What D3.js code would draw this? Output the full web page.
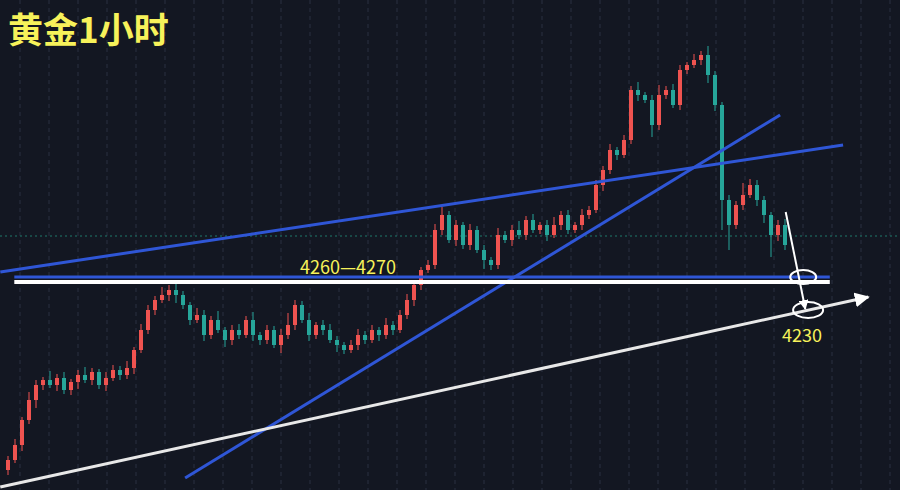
<!DOCTYPE html>
<html><head><meta charset="utf-8">
<script src="https://cdn.jsdelivr.net/npm/d3@7"></script>
<style>body{margin:0;background:#131722;}svg{display:block;}</style>
</head><body><div id="outer"></div>
<script>
// DATA //
const closes = [4085,4100,4125,4145,4160,4165,4160,4167,4155,4163,4170,4165,4173,4160,4167,4175,4170,4177,4195,4215,
  4235,4245,4250,4255,4250,4240,4225,4230,4210,4225,4215,4205,4215,4210,4225,4210,4205,4215,4200,4210,
  4220,4240,4225,4210,4220,4215,4205,4200,4195,4200,4210,4205,4215,4210,4220,4215,4230,4245,4260,4275,
  4280,4315,4330,4305,4320,4300,4315,4295,4285,4280,4310,4305,4315,4310,4325,4315,4320,4310,4320,4330,
  4315,4320,4330,4335,4360,4375,4395,4390,4405,4455,4450,4445,4420,4450,4455,4440,4475,4480,4485,4490,
  4470,4440,4345,4320,4340,4350,4360,4345,4330,4310,4320,4300];
const firstOpen = 4075;
const upperWick = [4,6,3,8,5,3,9,4,6,3,5,8,4,3,6,5,4,7,3,6,
  5,4,8,5,6,4,3,7,5,4,9,3,5,6,4,8,3,5,4,6,12,5,4,7,3,5,6,4,3,5,
  6,4,5,3,7,4,5,6,4,3,5,6,8,4,5,3,6,4,5,3,7,4,5,9,4,6,3,5,8,4,
  5,3,6,4,5,4,6,3,5,4,8,3,5,10,4,6,5,3,6,4,9,4,3,5,4,12,6,5,4,3,5,6];
const lowerWick = [5,3,6,4,8,5,3,6,4,5,7,3,5,4,6,3,5,4,6,3,
  4,5,3,6,8,4,5,3,6,4,3,7,5,4,3,6,5,4,3,8,4,5,3,6,4,5,3,7,4,3,
  5,4,3,6,4,5,3,4,6,5,3,4,5,3,6,4,5,3,9,5,4,3,6,4,5,3,4,6,3,5,
  4,3,5,4,3,6,4,5,3,4,6,3,12,5,4,3,5,4,3,5,8,6,30,25,4,5,3,6,8,22,6,5];
const titleText = '黄金1小时';
const rangeLabel = '4260—4270';
const targetLabel = '4230';
// trend lines: [index, price] endpoints
const blueLines = [
  [[-1.1, 4273], [119.3, 4400]],
  [[25.3, 4067], [110.3, 4430]]
];
const supportBlue = [[0.9, 4268], [117.4, 4268]];
const supportWhite = [[0.9, 4263], [117.4, 4263]];
const lowerWhite = [[-1.1, 4058], [122.9, 4248]];
const arrowDown = [[111.1, 4333], [113.9, 4236]];
const ellipses = [[113.6, 4268, 13, 7], [114.3, 4235, 15, 8]];
const lastPrice = 4309;

// SIZING //
const W = 900, H = 490;
const x = d3.scaleLinear().domain([0, closes.length - 1]).range([8, 785]);
const y = d3.scaleLinear().domain([4055, 4545]).range([H, 0]);

const svg = d3.select('#outer').append('svg').attr('width', W).attr('height', H);
svg.append('rect').attr('width', W).attr('height', H).attr('fill', '#131722');

const defs = svg.append('defs');
defs.append('marker').attr('id', 'arw').attr('viewBox', '0 0 10 10').attr('refX', 9).attr('refY', 5)
  .attr('markerWidth', 5).attr('markerHeight', 5).attr('orient', 'auto')
  .append('path').attr('d', 'M0,0L10,5L0,10z').attr('fill', 'white');

// GRID //
d3.range(20, W, 29).forEach(gx => {
  svg.append('line').attr('x1', gx).attr('x2', gx).attr('y1', 0).attr('y2', H)
    .attr('stroke', '#2a3040').attr('stroke-dasharray', '4,4');
});
svg.append('line').attr('x1', 0).attr('x2', W).attr('y1', y(lastPrice)).attr('y2', y(lastPrice))
  .attr('stroke', '#1f7a6a').attr('stroke-dasharray', '2,3');

// CANDLES //
const candles = closes.map((c, i) => {
  const o = i === 0 ? firstOpen : closes[i - 1];
  return {i, o, c, h: Math.max(o, c) + upperWick[i], l: Math.min(o, c) - lowerWick[i]};
});
const cg = svg.append('g');
candles.forEach(d => {
  const col = d.c >= d.o ? '#ef5350' : '#26a69a';
  cg.append('line').attr('x1', x(d.i)).attr('x2', x(d.i)).attr('y1', y(d.h)).attr('y2', y(d.l))
    .attr('stroke', col).attr('stroke-width', 1);
  cg.append('rect').attr('x', x(d.i) - 2).attr('width', 4)
    .attr('y', y(Math.max(d.o, d.c))).attr('height', Math.max(1, Math.abs(y(d.o) - y(d.c))))
    .attr('fill', col);
});

// DRAWINGS //
const seg = (pts, col, w, marker) => {
  const l = svg.append('line').attr('x1', x(pts[0][0])).attr('y1', y(pts[0][1]))
    .attr('x2', x(pts[1][0])).attr('y2', y(pts[1][1])).attr('stroke', col).attr('stroke-width', w);
  if (marker) l.attr('marker-end', 'url(#arw)');
};
blueLines.forEach(l => seg(l, '#2f56d6', 3));
seg(lowerWhite, '#e8e8e8', 3, true);
seg(supportWhite, '#ffffff', 4);
seg(supportBlue, '#2f56d6', 3);
seg(arrowDown, '#ffffff', 2, true);
ellipses.forEach(e => {
  svg.append('ellipse').attr('cx', x(e[0])).attr('cy', y(e[1])).attr('rx', e[2]).attr('ry', e[3])
    .attr('fill', 'none').attr('stroke', 'white').attr('stroke-width', 2);
});

// TEXT //
svg.append('text').attr('x', 8).attr('y', 43).text(titleText)
  .attr('fill', '#f7f25a').attr('font-size', 35).attr('font-weight', 'bold')
  .attr('font-family', 'Noto Sans CJK SC');
svg.append('text').attr('x', 300).attr('y', 274).text(rangeLabel)
  .attr('fill', '#f7f25a').attr('font-size', 18).attr('font-family', 'Noto Sans CJK SC');
svg.append('text').attr('x', 782).attr('y', 342).text(targetLabel)
  .attr('fill', '#f7f25a').attr('font-size', 18).attr('font-family', 'Noto Sans CJK SC');
</script></body></html>
